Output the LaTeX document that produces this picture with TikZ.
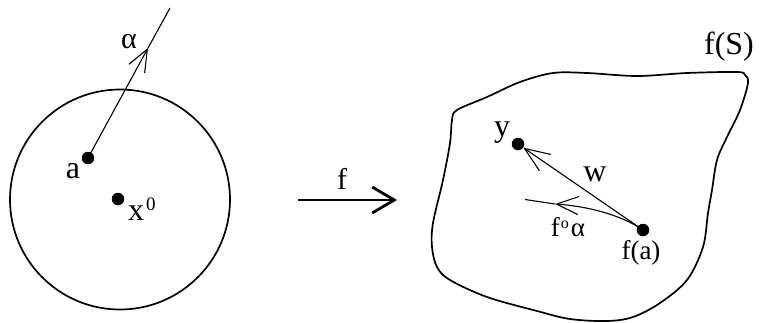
\documentclass[tikz,border=0pt]{standalone}
\usepackage{fontspec}
\setmainfont{Liberation Serif}
\usetikzlibrary{arrows.meta}
\begin{document}
\begin{tikzpicture}[x=1pt,y=-1pt,
  dot/.style={circle,fill=black,inner sep=0pt,minimum size=12.5pt},
  lab/.style={inner sep=0pt,font=\fontsize{32}{34}\selectfont},
  midlab/.style={inner sep=0pt,font=\fontsize{30}{32}\selectfont},
  smalllab/.style={inner sep=0pt,font=\fontsize{27}{29}\selectfont},
  thinline/.style={line width=1.1pt},
  barb/.style={-{Straight Barb[length=22pt,width=18pt]}},
  bigbarb/.style={-{Straight Barb[length=22pt,width=26pt]}},
  outline/.style={line width=1.7pt}]
\useasboundingbox (0,0) rectangle (761,322);
% left disc
\draw[outline] (120,199.5) circle (110);
% right region
\draw[outline] plot[smooth cycle, tension=0.55] coordinates {
  (748,83) (740,110) (727,137) (717,160) (712,190) (708,213) (703,247)
  (687,280) (660,303) (633,317) (607,321) (570,319) (537,311) (487,297)
  (450,280) (437,267) (432,247) (433,223) (443,180) (450,143) (452,120)
  (457,110) (487,97) (520,82) (553,73) (587,73) (637,76) (687,73)
  (737,72) (745,75)};
% points
\node[dot] (a) at (88,158) {};
\node[dot] (x0) at (118,199) {};
\node[dot] (y) at (518,144) {};
\node[dot] (fa) at (643,230) {};
% curve alpha
\coordinate (amid) at (148,48);
\coordinate (aend) at (170,8);
\draw[thinline,barb] (a.center) -- (amid);
\draw[thinline] (amid) -- (aend);
% map arrow f
\coordinate (fstart) at (298,200);
\coordinate (fend) at (397,200);
\draw[line width=2.8pt,bigbarb] (fstart) -- (fend);
% w
\draw[thinline,-{Straight Barb[length=25pt,width=20pt]}] (fa) -- (y);
% f o alpha
\coordinate (fcmid) at (555,204);
\coordinate (fcend) at (525,199.5);
\draw[thinline,barb] (fa.center) .. controls (620,214) and (585,206) .. (fcmid);
\draw[thinline] (fcmid) -- (fcend);
% labels
\node[midlab] (lalpha) at (129,42) {α};
\node[lab] (la) at (73,171) {a};
\node[lab,anchor=west] (lx) at (128,209) {x\kern2pt\raisebox{10pt}{\fontsize{19}{21}\selectfont 0}};
\node[midlab] (lf) at (342,179) {f};
\node[lab] (lfs) at (729,47) {f(S)};
\node[lab] (ly) at (502,133) {y};
\node[lab] (lw) at (595,174) {w};
\node[smalllab] (lfo) at (568,227) {f\kern1pt\raisebox{8pt}{\fontsize{16}{17}\selectfont o}\kern2pt α};
\node[smalllab] (lfa) at (641,253) {f(a)};
\end{tikzpicture}
\end{document}
